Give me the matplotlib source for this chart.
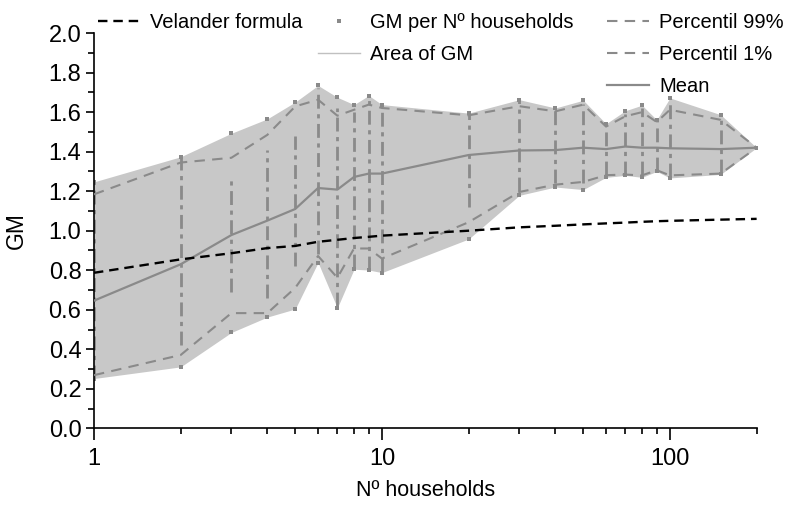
import matplotlib
matplotlib.use("Agg")
import matplotlib.pyplot as plt
from matplotlib.lines import Line2D

plt.rcParams['font.family'] = ['Liberation Sans', 'DejaVu Sans']
plt.rcParams['font.size'] = 15.5

# households per group
households = [1, 2, 3, 4, 5, 6, 7, 8, 9, 10, 20, 30, 40, 50, 60, 70, 80, 90, 100, 150, 200]

mean_gm = [0.646, 0.83, 0.978, 1.051, 1.11, 1.216, 1.208, 1.272, 1.289, 1.289, 1.383,
           1.406, 1.408, 1.42, 1.413, 1.426, 1.42, 1.42, 1.417, 1.413, 1.42]
p99 = [1.184, 1.345, 1.369, 1.485, 1.629, 1.663, 1.582, 1.612, 1.638, 1.621, 1.584,
       1.63, 1.604, 1.638, 1.527, 1.579, 1.60, 1.55, 1.612, 1.561, 1.42]
p1 = [0.269, 0.371, 0.583, 0.583, 0.711, 0.872, 0.762, 0.910, 0.910, 0.859, 1.043,
      1.196, 1.233, 1.247, 1.281, 1.284, 1.28, 1.306, 1.28, 1.289, 1.42]
area_hi = [1.247, 1.374, 1.493, 1.566, 1.651, 1.735, 1.675, 1.638, 1.684, 1.638, 1.595,
           1.663, 1.621, 1.66, 1.541, 1.607, 1.635, 1.561, 1.672, 1.587, 1.42]
area_lo = [0.252, 0.311, 0.485, 0.563, 0.604, 0.839, 0.609, 0.805, 0.801, 0.788, 0.958,
           1.179, 1.221, 1.208, 1.27, 1.28, 1.27, 1.30, 1.267, 1.285, 1.42]
gm_hi = [1.25, 1.37, 1.26, 1.41, 1.48, 1.72, 1.62, 1.60, 1.66, 1.62, 1.59,
         1.66, 1.61, 1.64, 1.53, 1.59, 1.62, 1.55, 1.64, 1.57, 1.42]
gm_lo = [0.25, 0.42, 0.69, 0.66, 0.82, 0.88, 0.62, 0.81, 0.80, 0.79, 1.12,
         1.20, 1.24, 1.24, 1.28, 1.28, 1.28, 1.30, 1.27, 1.29, 1.42]
velander = [0.787, 0.855, 0.886, 0.912, 0.923, 0.944, 0.954, 0.963, 0.969, 0.975, 1.0,
            1.017, 1.025, 1.032, 1.037, 1.041, 1.045, 1.048, 1.05, 1.056, 1.06]

GRAY = '#8a8a8a'
FILL = '#c8c8c8'


def make_chart(path="out.png"):
    fig = plt.figure(figsize=(7.87, 5.09), dpi=100)
    ax = fig.add_axes([0.1194, 0.1585, 0.842, 0.7765])

    ax.fill_between(households, area_lo, area_hi, color=FILL, lw=0, zorder=1)
    ax.vlines(households, gm_lo, gm_hi, colors=GRAY, linestyles=(0, (5, 2, 1.5, 2)),
              lw=2, zorder=2)
    ax.scatter(households + households, area_lo + area_hi, s=5, marker='s',
               color=GRAY, lw=0, zorder=2)
    ax.plot(households, p99, color=GRAY, ls=(0, (5, 3.5)), lw=1.5, zorder=3)
    ax.plot(households, p1, color=GRAY, ls=(0, (5, 3.5)), lw=1.5, zorder=3)
    ax.plot(households, mean_gm, color=GRAY, lw=1.6, zorder=4)
    ax.plot(households, velander, color='black', ls=(0, (4, 2.5)), lw=1.7, zorder=5)

    ax.set_xscale('log')
    ax.set_xlim(1, 200)
    ax.set_ylim(0, 2.0)
    ax.set_xticks([1, 10, 100])
    ax.set_xticklabels(['1', '10', '100'])
    ax.set_yticks([i / 10 for i in range(0, 21, 2)])
    ax.set_yticks([i / 10 for i in range(1, 20, 2)], minor=True)
    ax.set_yticklabels(['%.1f' % (i / 10) for i in range(0, 21, 2)])

    for side in ('top', 'right'):
        ax.spines[side].set_visible(False)
    for side in ('left', 'bottom'):
        ax.spines[side].set_linewidth(1.2)
    ax.tick_params(axis='both', which='both', direction='out', width=1.2, labelsize=17)
    ax.tick_params(axis='x', which='major', length=8.5, pad=6)
    ax.tick_params(axis='x', which='minor', length=4)
    ax.tick_params(axis='y', which='major', length=6, pad=3)
    ax.tick_params(axis='y', which='minor', length=4)

    ax.set_xlabel('Nº households', labelpad=7)
    ax.set_ylabel('GM', labelpad=15, fontsize=16.5)

    h_vel = Line2D([], [], color='black', ls=(0, (4, 2.5)), lw=1.7)
    h_gm = Line2D([], [], ls='none', marker='s', ms=2.5, color=GRAY, mew=0)
    h_area = Line2D([], [], color='#c0c0c0', lw=1)
    h_p = Line2D([], [], color=GRAY, ls=(0, (5, 3.5)), lw=1.5)
    h_mean = Line2D([], [], color=GRAY, lw=1.6)

    opts = dict(loc='upper left', frameon=False, borderpad=0, borderaxespad=0,
                handlelength=2.1, handletextpad=0.5, labelspacing=0.66, fontsize=14.5)
    fig.legend([h_vel], ['Velander formula'], bbox_to_anchor=(0.1245, 0.975), **opts)
    fig.legend([h_gm, h_area], ['GM per Nº households', 'Area of GM'],
               bbox_to_anchor=(0.404, 0.975), **opts)
    fig.legend([h_p, h_p, h_mean], ['Percentil 99%', 'Percentil 1%', 'Mean'],
               bbox_to_anchor=(0.771, 0.975), **opts)

    fig.savefig(path, dpi=100)
    plt.close(fig)


if __name__ == "__main__":
    make_chart("out.png")
